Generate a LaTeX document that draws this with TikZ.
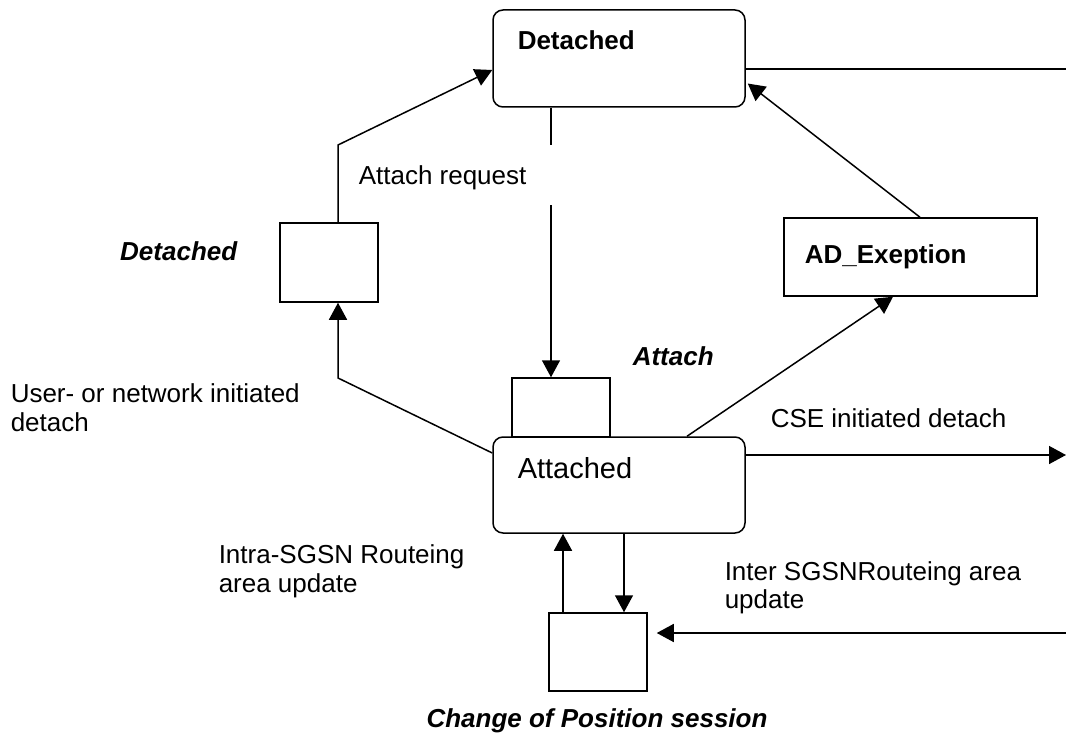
\documentclass[tikz,border=0pt]{standalone}
\usepackage{fontspec}
\setmainfont{Liberation Sans}
\usetikzlibrary{arrows.meta,calc}
\begin{document}
\begin{tikzpicture}[x=1pt,y=-1pt,line width=1.5pt,
  arr/.style={-{Triangle[length=17pt,width=18pt]}},
  statebox/.style={draw,rounded corners=10pt,minimum width=252pt,minimum height=96pt,inner sep=0pt},
  plainbox/.style={draw,inner sep=0pt},
  lbl/.style={anchor=base west,inner sep=0pt,font=\fontsize{26}{29}\selectfont},
  blbl/.style={lbl,font=\fontsize{26}{29}\selectfont\bfseries},
  ilbl/.style={lbl,font=\fontsize{26}{29}\selectfont\bfseries\itshape}]
\useasboundingbox (0,0) rectangle (1066,733);
% states
\node[statebox,minimum height=97pt] (det) at (619,58.5) {};
\node[statebox] (att) at (619,485) {};
\node[plainbox,minimum width=98pt,minimum height=59pt] (attbox) at (561,407.5) {};
\node[plainbox,minimum width=98pt,minimum height=79pt] (ldet) at (329,262.5) {};
\node[plainbox,minimum width=253pt,minimum height=78pt] (adex) at (910.5,257) {};
\node[plainbox,minimum width=98pt,minimum height=78pt] (cop) at (598,652) {};
% texts in boxes
\node[blbl] (tdet) at (517,50) {Detached};
\node[lbl,font=\fontsize{29}{32}\selectfont] (tatt) at (517,478) {Attached};
\node[blbl] (tadex) at (804,263) {AD\_Exeption};
% labels
\node[lbl] (tareq) at (358,185) {Attach request};
\node[ilbl,anchor=base east] (tldet) at (238,260) {Detached};
\node[ilbl] (tattach) at (632,365) {Attach};
\node[lbl] (tuser1) at (10,402) {User- or network initiated};
\node[lbl] (tuser2) at (10,431) {detach};
\node[lbl] (tcse) at (770,427) {CSE initiated detach};
\node[lbl] (tintra1) at (218,563) {Intra-SGSN Routeing};
\node[lbl] (tintra2) at (218,592) {area update};
\node[lbl] (tinter1) at (724,580) {Inter SGSNRouteing area};
\node[lbl] (tinter2) at (724,608) {update};
\node[ilbl,anchor=base] (tcop) at (597,727) {Change of Position session};
% coordinates
\coordinate (e1) at (1066,69);
\coordinate (e2) at (1066,455);
\coordinate (e3) at (1066,633);
\coordinate (b1) at (338,145);
\coordinate (b2) at (338,378);
\coordinate (g1) at (551,145);
\coordinate (g2) at (551,205);
% connectors
\draw ($(det.east)+(0,10.5)$) -- (e1);
\draw[arr] ($(adex.north)+(9.5,0)$) -- ($(det.east)+(2,25)$);
\draw[arr] ($(att.north)+(68,0)$) -- ($(adex.south)+(-17.5,0)$);
\draw (det.south -| g1) -- (g1);
\draw[arr] (g2) -- (attbox.north -| g2);
\draw[arr] (ldet.north -| b1) -- (b1) -- ($(det.west)+(0,11.5)$);
\draw[arr] ($(att.west)+(0,-32)$) -- (b2) -- (ldet.south -| b2);
\draw[arr] ($(att.east)+(0,-30)$) -- (e2);
\draw[arr] ($(cop.north)+(-35,0)$) -- ($(att.south)+(-56,0)$);
\draw[arr] ($(att.south)+(5,0)$) -- ($(cop.north)+(26,0)$);
\draw[arr] (e3) -- ($(cop.east)+(9,-19)$);
\end{tikzpicture}
\end{document}
